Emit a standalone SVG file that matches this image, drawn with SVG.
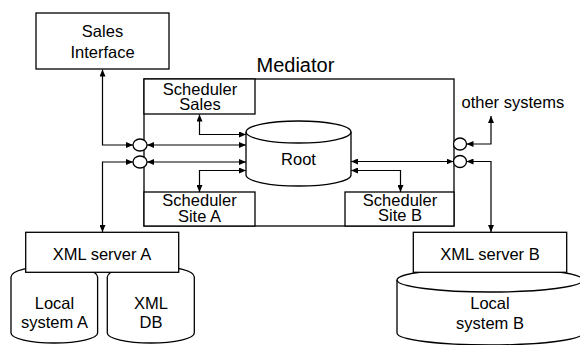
<svg xmlns="http://www.w3.org/2000/svg" width="580" height="345" viewBox="0 0 580 345">
<style>
.box{fill:#fff;stroke:#000;stroke-width:1.3}
.line{fill:none;stroke:#000;stroke-width:1.2}
.t{font-family:"Liberation Sans",Arial,sans-serif;font-size:16.5px;fill:#000;text-anchor:middle}
.title{font-family:"Liberation Sans",Arial,sans-serif;font-size:20px;fill:#000}
</style>
<defs>
<marker id="ah" markerUnits="userSpaceOnUse" markerWidth="7" markerHeight="6" refX="7" refY="3" orient="auto-start-reverse">
<path d="M0,0 L7,3 L0,6 z" fill="#000"/>
</marker>
</defs>
<rect width="580" height="345" fill="#fff"/>

<g id="sales-interface">
<rect class="box" x="36" y="13" width="133" height="56"/>
<text class="t" x="102.5" y="37">Sales</text>
<text class="t" x="102.5" y="58">Interface</text>
</g>

<g id="mediator">
<rect class="box" x="144" y="79" width="310" height="147"/>
<text class="title" x="256.5" y="72">Mediator</text>
</g>

<g id="scheduler-sales">
<rect class="box" x="144" y="79" width="111" height="35"/>
<text class="t" x="200" y="95">Scheduler</text>
<text class="t" x="200" y="110">Sales</text>
</g>

<g id="scheduler-site-a">
<rect class="box" x="144" y="192" width="111" height="34"/>
<text class="t" x="199.5" y="206">Scheduler</text>
<text class="t" x="199.5" y="221.5">Site A</text>
</g>

<g id="scheduler-site-b">
<rect class="box" x="345" y="192" width="109" height="34"/>
<text class="t" x="400" y="206">Scheduler</text>
<text class="t" x="400" y="221">Site B</text>
</g>

<g id="root">
<path class="box" d="M246,132 A52.5,11 0 0 1 351,132 V175 A52.5,11 0 0 1 246,175 Z"/>
<path class="line" style="stroke-width:1.3" d="M246,132 A52.5,11 0 0 0 351,132"/>
<text class="t" x="298.5" y="165">Root</text>
</g>

<g id="local-system-a">
<path class="box" d="M11,277 A43.3,11 0 0 1 97.6,277 V333 A43.3,10 0 0 1 11,333 Z"/>
<text class="t" x="54.5" y="308.5">Local</text>
<text class="t" x="54.5" y="328">system A</text>
</g>

<g id="xml-db">
<path class="box" d="M107.3,277 A43.5,11 0 0 1 194.3,277 V333 A43.5,10 0 0 1 107.3,333 Z"/>
<text class="t" x="151" y="308.5">XML</text>
<text class="t" x="151" y="328">DB</text>
</g>

<g id="local-system-b">
<path class="box" d="M397,280 A93,12 0 0 1 583,280 V333 A93,12 0 0 1 397,333 Z"/>
<path class="line" style="stroke-width:1.3" d="M397,280 A93,12 0 0 0 583,280"/>
<text class="t" x="490" y="309">Local</text>
<text class="t" x="490" y="329">system B</text>
</g>

<g id="xml-server-a">
<rect class="box" x="25.7" y="232.3" width="153" height="40"/>
<text class="t" x="102" y="259.5">XML server A</text>
</g>

<g id="xml-server-b">
<rect class="box" x="413.3" y="232.3" width="153.4" height="40"/>
<text class="t" x="490" y="259.5">XML server B</text>
</g>

<g id="other-systems">
<text class="t" style="text-anchor:start" x="461.5" y="107.5">other systems</text>
</g>

<g id="connectors">
<path class="line" marker-start="url(#ah)" marker-end="url(#ah)" d="M102.5,69.5 V145 H133"/>
<path class="line" marker-start="url(#ah)" marker-end="url(#ah)" d="M133,162 H102.5 V232"/>
<path class="line" marker-start="url(#ah)" marker-end="url(#ah)" d="M147,145 H246"/>
<path class="line" marker-start="url(#ah)" marker-end="url(#ah)" d="M147,162 H246"/>
<path class="line" marker-start="url(#ah)" marker-end="url(#ah)" d="M199.5,114.5 V134.5 H246"/>
<path class="line" marker-start="url(#ah)" marker-end="url(#ah)" d="M199.5,192 V170.5 H246"/>
<path class="line" marker-start="url(#ah)" marker-end="url(#ah)" d="M351,161.5 H453.5"/>
<path class="line" marker-start="url(#ah)" marker-end="url(#ah)" d="M351,170.5 H400.5 V192"/>
<path class="line" marker-start="url(#ah)" marker-end="url(#ah)" d="M466.5,144 H491 V116"/>
<path class="line" marker-start="url(#ah)" marker-end="url(#ah)" d="M466.5,161.5 H491 V232"/>
</g>

<g id="ports">
<ellipse class="box" cx="140" cy="145" rx="7" ry="6"/>
<ellipse class="box" cx="140" cy="162" rx="7" ry="6"/>
<ellipse class="box" cx="460" cy="144" rx="6.5" ry="6"/>
<ellipse class="box" cx="460" cy="161.5" rx="6.5" ry="6"/>
</g>
</svg>
